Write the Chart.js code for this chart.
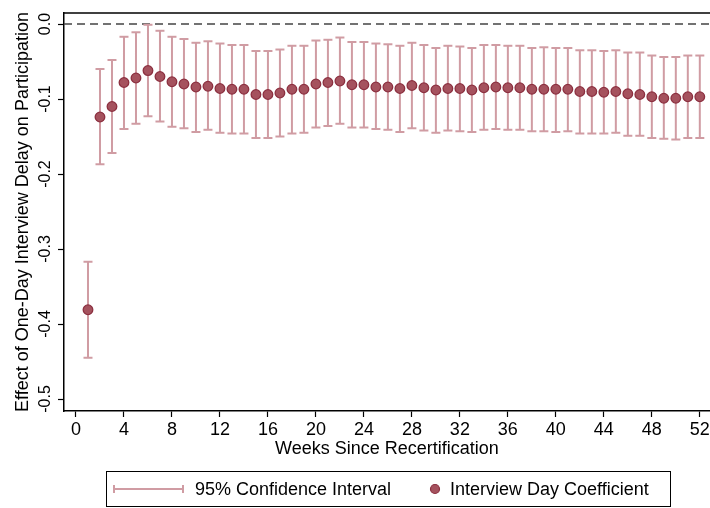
<!DOCTYPE html>
<html>
<head>
<meta charset="utf-8">
<script src="https://cdn.jsdelivr.net/npm/chart.js@4.4.1/dist/chart.umd.min.js"></script>
<style>
  html, body { margin: 0; padding: 0; background: #fff; }
  #wrap { width: 710px; height: 508px; }
</style>
</head>
<body>
<div id="wrap"><canvas id="chart"></canvas></div>
<script>
// weeks since recertification
const weeks = [1, 2, 3, 4, 5, 6, 7, 8, 9, 10, 11, 12, 13, 14, 15, 16, 17, 18, 19, 20, 21, 22, 23, 24, 25, 26,
               27, 28, 29, 30, 31, 32, 33, 34, 35, 36, 37, 38, 39, 40, 41, 42, 43, 44, 45, 46, 47, 48, 49, 50, 51, 52];

const coef = [-0.381, -0.124, -0.110, -0.078, -0.072, -0.062, -0.070, -0.077, -0.080, -0.084, -0.083, -0.086, -0.087,
              -0.087, -0.094, -0.094, -0.092, -0.087, -0.087, -0.080, -0.078, -0.076, -0.081, -0.081, -0.084, -0.084,
              -0.086, -0.082, -0.085, -0.088, -0.086, -0.086, -0.088, -0.085, -0.084, -0.085, -0.085, -0.087, -0.087,
              -0.087, -0.087, -0.090, -0.090, -0.091, -0.090, -0.093, -0.094, -0.097, -0.099, -0.099, -0.097, -0.097];

const ciHigh = [-0.317, -0.060, -0.048, -0.017, -0.011, -0.001, -0.009, -0.017, -0.020, -0.025, -0.023, -0.026, -0.028,
                -0.028, -0.036, -0.036, -0.034, -0.029, -0.029, -0.022, -0.021, -0.018, -0.024, -0.024, -0.026, -0.027,
                -0.029, -0.025, -0.028, -0.032, -0.029, -0.030, -0.032, -0.028, -0.028, -0.029, -0.029, -0.032, -0.031,
                -0.032, -0.032, -0.035, -0.035, -0.036, -0.035, -0.038, -0.038, -0.042, -0.044, -0.044, -0.042, -0.042];

const ciLow = [-0.445, -0.187, -0.172, -0.140, -0.133, -0.123, -0.130, -0.137, -0.139, -0.144, -0.141, -0.145, -0.146,
               -0.146, -0.152, -0.152, -0.150, -0.146, -0.145, -0.138, -0.136, -0.133, -0.138, -0.138, -0.140, -0.141,
               -0.144, -0.139, -0.142, -0.145, -0.142, -0.143, -0.144, -0.141, -0.140, -0.141, -0.141, -0.143, -0.143,
               -0.144, -0.143, -0.146, -0.146, -0.146, -0.145, -0.149, -0.149, -0.152, -0.153, -0.154, -0.152, -0.152];

const xTicks = [0, 4, 8, 12, 16, 20, 24, 28, 32, 36, 40, 44, 48, 52];
const yTicks = [0, -0.1, -0.2, -0.3, -0.4, -0.5];
const yTickLabels = ['0.0', '-0.1', '-0.2', '-0.3', '-0.4', '-0.5'];

const legendLabels = ['95% Confidence Interval', 'Interview Day Coefficient'];

const xMin = -1, xMax = 52.85;
const yMin = -0.516, yMax = 0.0147;

const FONT = '"Liberation Sans", Arial, sans-serif';
const CI_COLOR = '#d09ca3';
const DOT_FILL = '#a5525e';
const DOT_BORDER = '#8c3040';

// error bar segments: low -> high, then a gap
const ciPoints = [];
weeks.forEach((w, i) => {
    ciPoints.push({ x: w, y: ciLow[i] });
    ciPoints.push({ x: w, y: ciHigh[i] });
    ciPoints.push({ x: w, y: null });
});

const coefPoints = weeks.map((w, i) => ({ x: w, y: coef[i] }));

// frame top line, rotated y tick labels and the boxed legend
const extrasPlugin = {
    id: 'extras',
    afterDraw(chart) {
        const ctx = chart.ctx;
        const area = chart.chartArea;
        const yScale = chart.scales.y;

        ctx.save();
        ctx.strokeStyle = '#000';
        ctx.lineWidth = 1.5;
        ctx.beginPath();
        ctx.moveTo(area.left, area.top);
        ctx.lineTo(area.right, area.top);
        ctx.stroke();

        ctx.fillStyle = '#000';
        ctx.font = '16px ' + FONT;
        ctx.textAlign = 'center';
        ctx.textBaseline = 'middle';
        yTicks.forEach((v, i) => {
            const py = yScale.getPixelForValue(v);
            ctx.save();
            ctx.translate(46, py);
            ctx.rotate(-Math.PI / 2);
            ctx.fillText(yTickLabels[i], 0, 0);
            ctx.restore();
        });

        // legend
        const bx = 106.5, by = 471.5, bw = 564, bh = 35;
        ctx.strokeStyle = '#000';
        ctx.lineWidth = 1;
        ctx.strokeRect(bx, by, bw, bh);
        const cy = by + bh / 2;

        ctx.strokeStyle = CI_COLOR;
        ctx.lineWidth = 2;
        ctx.beginPath();
        ctx.moveTo(113, cy); ctx.lineTo(184, cy);
        ctx.moveTo(114, cy - 4); ctx.lineTo(114, cy + 4);
        ctx.moveTo(183, cy - 4); ctx.lineTo(183, cy + 4);
        ctx.stroke();

        ctx.fillStyle = DOT_FILL;
        ctx.strokeStyle = DOT_BORDER;
        ctx.lineWidth = 1.2;
        ctx.beginPath();
        ctx.arc(435, cy, 4.5, 0, Math.PI * 2);
        ctx.fill();
        ctx.stroke();

        ctx.fillStyle = '#000';
        ctx.font = '18px ' + FONT;
        ctx.textAlign = 'left';
        ctx.fillText(legendLabels[0], 195, cy + 1);
        ctx.fillText(legendLabels[1], 450, cy + 1);
        ctx.restore();
    }
};

new Chart(document.getElementById('chart'), {
    type: 'scatter',
    data: {
        datasets: [{
            type: 'line',
            label: 'zero',
            data: [{ x: xMin, y: 0 }, { x: xMax, y: 0 }],
            borderColor: '#444',
            borderWidth: 1.6,
            borderDash: [8, 5],
            pointRadius: 0,
            order: 3
        }, {
            type: 'line',
            label: legendLabels[0],
            data: ciPoints,
            borderColor: CI_COLOR,
            borderWidth: 2,
            spanGaps: false,
            pointStyle: 'line',
            pointRadius: 4.5,
            pointBorderWidth: 2,
            pointBorderColor: CI_COLOR,
            pointHoverRadius: 4.5,
            order: 2
        }, {
            label: legendLabels[1],
            data: coefPoints,
            backgroundColor: DOT_FILL,
            borderColor: DOT_BORDER,
            borderWidth: 1.3,
            pointRadius: 4.8,
            pointHoverRadius: 4.8,
            order: 1
        }]
    },
    options: {
        responsive: true,
        maintainAspectRatio: false,
        animation: false,
        events: [],
        layout: { autoPadding: false, padding: { top: 13, right: 0, bottom: 47, left: 0 } },
        plugins: {
            legend: { display: false },
            tooltip: { enabled: false }
        },
        scales: {
            x: {
                type: 'linear',
                min: xMin,
                max: xMax,
                afterBuildTicks: s => { s.ticks = xTicks.map(v => ({ value: v })); },
                afterFit: s => { s.height = 50; s.paddingLeft = 0; s.paddingRight = 0; },
                grid: { drawOnChartArea: false, drawTicks: true, tickLength: 6, color: '#000', tickWidth: 1.2 },
                border: { display: true, color: '#000', width: 1.5 },
                ticks: {
                    color: '#000',
                    font: { family: FONT, size: 18 },
                    padding: 2,
                    maxRotation: 0,
                    autoSkip: false
                },
                title: {
                    display: true,
                    text: 'Weeks Since Recertification',
                    color: '#000',
                    font: { family: FONT, size: 18 },
                    padding: { top: 0, bottom: 1 }
                }
            },
            y: {
                type: 'linear',
                min: yMin,
                max: yMax,
                afterBuildTicks: s => { s.ticks = yTicks.map(v => ({ value: v })); },
                afterFit: s => { s.width = 64; },
                grid: { drawOnChartArea: false, drawTicks: true, tickLength: 6, color: '#000', tickWidth: 1.2 },
                border: { display: true, color: '#000', width: 1.5 },
                ticks: { display: false },
                title: {
                    display: true,
                    text: 'Effect of One-Day Interview Delay on Participation',
                    color: '#000',
                    font: { family: FONT, size: 18 },
                    padding: { top: 12, bottom: 0 }
                }
            }
        }
    },
    plugins: [extrasPlugin]
});
</script>
</body>
</html>
